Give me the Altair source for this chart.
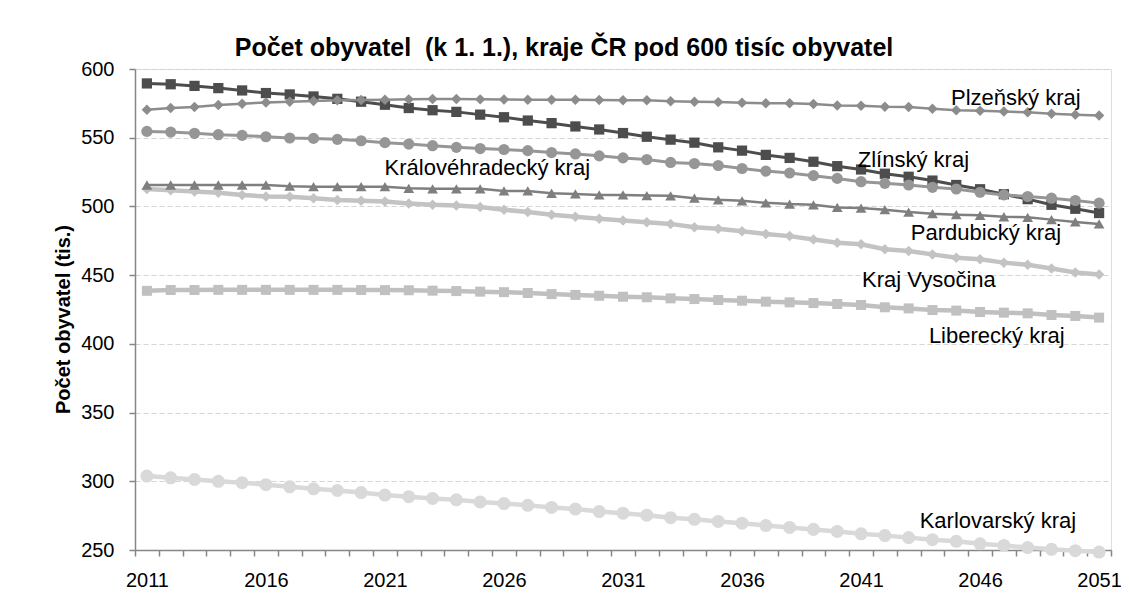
import altair as alt
import pandas as pd

years = list(range(2011, 2052))

zlinsky = [589.5, 588.9, 587.7, 586.1, 584.4, 582.5, 581.5, 580.0, 578.3, 576.2,
           574.0, 571.6, 570.0, 568.8, 566.8, 564.9, 562.5, 560.6, 558.2, 556.0,
           553.4, 550.7, 548.6, 546.4, 543.0, 540.6, 537.5, 535.3, 532.5, 529.3,
           526.9, 523.8, 521.6, 518.8, 515.6, 512.5, 508.9, 505.3, 501.2, 498.3, 495.2]
plzensky = [570.4, 571.6, 572.4, 573.8, 574.8, 575.7, 576.2, 576.7, 577.2, 577.4,
            577.6, 577.9, 578.1, 578.1, 577.9, 577.8, 577.6, 577.6, 577.6, 577.4,
            577.3, 577.2, 576.6, 576.1, 575.9, 575.5, 575.1, 575.0, 574.6, 573.5,
            573.3, 572.5, 572.3, 571.0, 570.0, 569.7, 569.0, 568.5, 567.4, 566.8, 566.2]
kralovehradecky = [554.6, 554.1, 553.2, 552.2, 551.7, 550.7, 549.8, 549.5, 548.8, 547.8,
                   546.4, 545.4, 544.2, 543.0, 542.1, 541.4, 540.6, 539.2, 538.2, 536.8,
                   535.3, 534.1, 532.0, 531.2, 529.8, 527.6, 525.7, 524.3, 522.4, 520.4,
                   518.0, 516.8, 515.6, 513.9, 512.7, 510.3, 508.4, 507.2, 506.0, 504.3, 502.4]
pardubicky = [515.6, 515.6, 515.6, 515.6, 515.6, 515.6, 514.7, 514.4, 514.4, 514.4,
              514.4, 513.2, 512.8, 512.8, 512.8, 511.3, 511.3, 509.6, 509.1, 508.4,
              508.4, 507.9, 507.7, 506.0, 504.8, 504.1, 502.6, 501.7, 501.2, 499.3,
              498.8, 497.6, 495.9, 494.7, 494.0, 493.5, 492.5, 492.1, 490.4, 488.7, 487.3]
vysocina = [512.7, 511.8, 510.8, 509.9, 508.4, 507.2, 507.0, 506.0, 504.6, 504.1,
            503.6, 502.2, 501.2, 500.7, 499.5, 497.6, 495.9, 494.0, 492.5, 491.1,
            489.7, 488.5, 487.3, 484.9, 483.7, 482.0, 480.0, 478.4, 476.0, 473.6,
            472.4, 468.8, 467.5, 465.1, 462.7, 461.5, 459.1, 457.5, 454.8, 451.9, 450.5]
liberecky = [438.6, 439.2, 439.2, 439.3, 439.3, 439.3, 439.3, 439.3, 439.3, 439.2,
             439.1, 439.0, 438.7, 438.4, 438.0, 437.6, 437.0, 436.2, 435.6, 435.0,
             434.3, 433.9, 433.1, 432.6, 431.9, 431.4, 430.7, 430.2, 429.7, 429.0,
             428.3, 426.6, 425.8, 424.6, 424.2, 423.2, 422.7, 422.2, 421.0, 420.3, 419.1]
karlovarsky = [303.8, 302.5, 301.3, 300.0, 299.0, 297.5, 296.0, 294.5, 293.3, 291.8,
               290.0, 288.8, 287.5, 286.5, 285.0, 283.8, 282.5, 281.0, 279.8, 278.0,
               276.8, 275.3, 273.5, 272.3, 270.8, 269.5, 267.8, 266.4, 265.0, 263.5,
               261.8, 260.5, 259.0, 257.5, 256.3, 254.5, 253.3, 251.8, 250.5, 249.5, 248.5]

series_names = ["Karlovarský kraj", "Liberecký kraj", "Kraj Vysočina", "Pardubický kraj",
                "Zlínský kraj", "Plzeňský kraj", "Královéhradecký kraj"]
series_values = [karlovarsky, liberecky, vysocina, pardubicky, zlinsky, plzensky, kralovehradecky]

# annotation labels (text, year position, value position)
label_text = ["Plzeňský kraj", "Zlínský kraj", "Královéhradecký kraj", "Pardubický kraj",
              "Kraj Vysočina", "Liberecký kraj", "Karlovarský kraj"]
label_year = [2047.5, 2043.2, 2025.3, 2046.25, 2043.85, 2046.7, 2046.75]
label_value = [574.0, 528.5, 523.0, 475.5, 441.6, 400.8, 265.7]

# styles
styles = {
    "Karlovarský kraj": dict(color="#d9d9d9", shape="circle", size=170, width=4.5),
    "Liberecký kraj": dict(color="#c0c0c0", shape="square", size=100, width=4.5),
    "Kraj Vysočina": dict(color="#c3c3c3", shape="diamond", size=110, width=4.5),
    "Pardubický kraj": dict(color="#7f7f7f", shape="triangle-up", size=115, width=2.5),
    "Zlínský kraj": dict(color="#4d4d4d", shape="square", size=105, width=3),
    "Plzeňský kraj": dict(color="#8c8c8c", shape="diamond", size=110, width=2.5),
    "Královéhradecký kraj": dict(color="#969696", shape="circle", size=125, width=3),
}

rows = []
for name, vals in zip(series_names, series_values):
    for y, v in zip(years, vals):
        rows.append({"series": name, "year": y, "value": v})
df = pd.DataFrame(rows)
labels_df = pd.DataFrame({"label": label_text, "year": label_year, "value": label_value})

W, H = 976, 481
FONT = "Liberation Sans"
AXIS_GRAY = "#868686"

x_scale = alt.Scale(domain=[2010.5, 2051.5], nice=False, zero=False)
y_scale = alt.Scale(domain=[250, 600], nice=False, zero=False)

x_axis = alt.Axis(
    values=[2010.5 + i for i in range(42)],
    labelExpr="(datum.value + 0.5 - 2011) % 5 == 0 ? '' + (datum.value + 0.5) : ''",
    labelOffset=W / 41 / 2,
    labelOverlap=False, labelFlush=False,
    tickSize=6, tickColor=AXIS_GRAY, tickWidth=1.5,
    domainColor=AXIS_GRAY, domainWidth=1.5,
    labelFont=FONT, labelFontSize=20, labelColor="#000000", labelPadding=14,
    grid=False, title=None,
)
y_axis = alt.Axis(
    values=[250, 300, 350, 400, 450, 500, 550, 600], format="d",
    grid=True, gridDash=[5, 3], gridColor="#d4d4d4", gridWidth=1.2,
    tickSize=6, tickColor=AXIS_GRAY, tickWidth=1.5,
    domainColor=AXIS_GRAY, domainWidth=1.5,
    labelFont=FONT, labelFontSize=20, labelColor="#000000", labelPadding=15,
    title="Počet obyvatel (tis.)", titleFont=FONT, titleFontSize=20, titleFontWeight="bold",
    titleColor="#000000", titleAngle=270, titleBaseline="middle", titleX=-72, titleY=250,
)

layers = []
for i, name in enumerate(series_names):
    st = styles[name]
    layers.append(
        alt.Chart(df).transform_filter(alt.datum.series == name).mark_line(
            color=st["color"], strokeWidth=st["width"],
            point=alt.OverlayMarkDef(shape=st["shape"], size=st["size"], filled=True,
                                     color=st["color"], opacity=1),
        ).encode(
            x=alt.X("year:Q", scale=x_scale, axis=x_axis),
            y=alt.Y("value:Q", scale=y_scale, axis=y_axis),
        )
    )

text_layer = alt.Chart(labels_df).mark_text(
    font=FONT, fontSize=22, align="center", baseline="alphabetic", color="#000000"
).encode(
    x=alt.X("year:Q", scale=x_scale, axis=x_axis),
    y=alt.Y("value:Q", scale=y_scale, axis=y_axis),
    text="label:N",
)

chart = alt.layer(*layers, text_layer).properties(
    width=W, height=H,
    title=alt.TitleParams(
        text="Počet obyvatel\u00a0 (k 1. 1.), kraje ČR pod 600 tisíc obyvatel",
        font=FONT, fontSize=25, fontWeight="bold", color="#000000",
        anchor="middle", frame="group", dx=-59, dy=10, offset=8,
    ),
    autosize=alt.AutoSizeParams(type="none"),
    padding={"left": 127, "top": 61, "right": 10, "bottom": 45},
).configure_view(strokeWidth=0).configure(background="white")

chart.save("out.html", embed_options={"renderer": "svg", "actions": False})
